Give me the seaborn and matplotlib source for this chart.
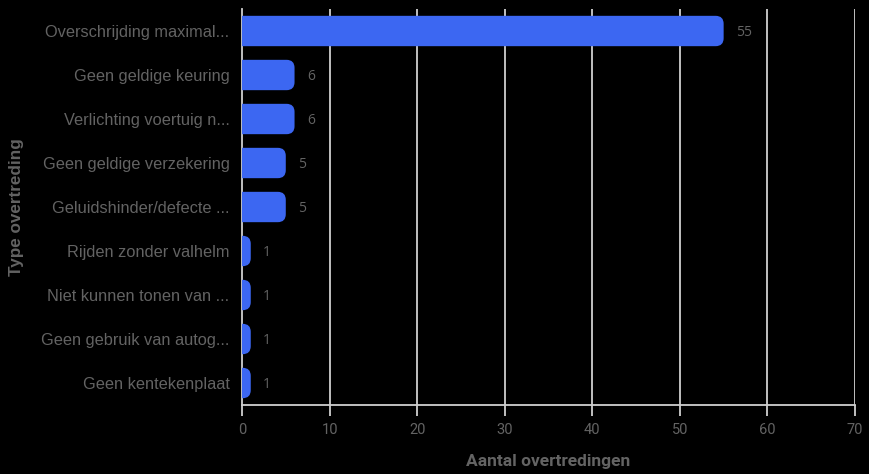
import matplotlib
matplotlib.use("Agg")
import matplotlib.pyplot as plt
import seaborn as sns
import pandas as pd
from matplotlib.patches import FancyBboxPatch

categories = [
    "Overschrijding maximal...",
    "Geen geldige keuring",
    "Verlichting voertuig n...",
    "Geen geldige verzekering",
    "Geluidshinder/defecte ...",
    "Rijden zonder valhelm",
    "Niet kunnen tonen van ...",
    "Geen gebruik van autog...",
    "Geen kentekenplaat",
]
values = [55, 6, 6, 5, 5, 1, 1, 1, 1]
x_ticks = [0, 10, 20, 30, 40, 50, 60, 70]

df = pd.DataFrame({"Type overtreding": categories, "Aantal overtredingen": values})

sns.set_theme(style="dark")
plt.rcParams["font.family"] = ["Liberation Sans", "DejaVu Sans"]

BG = "#000000"
TXT = "#636363"
GRID = "#d0d0d0"
BAR = "#3c67f2"

fig = plt.figure(figsize=(8.7, 4.74), dpi=100, facecolor=BG)
ax = fig.add_axes([242 / 870, 1 - 405 / 474, 613 / 870, 396 / 474])
ax.set_facecolor(BG)

sns.barplot(data=df, x="Aantal overtredingen", y="Type overtreding",
            color=BAR, width=0.69, ax=ax, saturation=1, zorder=3)

ax.set_xlim(0, 70)
ax.set_xticks(x_ticks)

# rounded right ends
fig.canvas.draw()
bb = ax.get_window_extent()
ylim = ax.get_ylim()
x_per_px = 70 / bb.width
y_per_px = abs(ylim[1] - ylim[0]) / bb.height
asp = y_per_px / x_per_px
r = 8 * x_per_px
for p in list(ax.patches):
    x0, y0 = p.get_x(), p.get_y()
    w, h = p.get_width(), p.get_height()
    p.set_visible(False)
    fp = FancyBboxPatch((x0 - r, y0), w + r, h,
                        boxstyle=f"round,pad=0,rounding_size={r}",
                        mutation_aspect=asp, facecolor=BAR, edgecolor="none",
                        zorder=3)
    ax.add_patch(fp)
    ax.text(x0 + w + 1.4, y0 + h / 2 + 0.03, f"{int(w)}", color=TXT, fontsize=10,
            va="center", ha="left", family=["Open Sans", "DejaVu Sans"])

ax.grid(False)
for v in x_ticks[1:]:
    ax.axvline(v, color=GRID, lw=1.3, zorder=1)

for s in ["top", "right"]:
    ax.spines[s].set_visible(False)
for s in ["left", "bottom"]:
    ax.spines[s].set_visible(True)
    ax.spines[s].set_color(GRID)
    ax.spines[s].set_linewidth(1.3)

ax.tick_params(axis="x", colors=GRID, length=8, width=1.3, labelcolor=TXT,
               labelsize=10.5, pad=5, bottom=True)
ax.tick_params(axis="y", length=0, labelcolor=TXT, labelsize=11.8, pad=9)
for lab in ax.get_xticklabels():
    lab.set_family(["Roboto", "DejaVu Sans"])

ax.set_xlabel("Aantal overtredingen", color=TXT, fontsize=12.5,
              fontweight="bold", family=["Roboto", "DejaVu Sans"], labelpad=12)
ax.set_ylabel("Type overtreding", color=TXT, fontsize=12.3,
              fontweight="bold", family=["Liberation Sans", "DejaVu Sans"])
ax.yaxis.set_label_coords(-218 / 613, 0.5)

fig.savefig("out.png", dpi=100, facecolor=BG)
